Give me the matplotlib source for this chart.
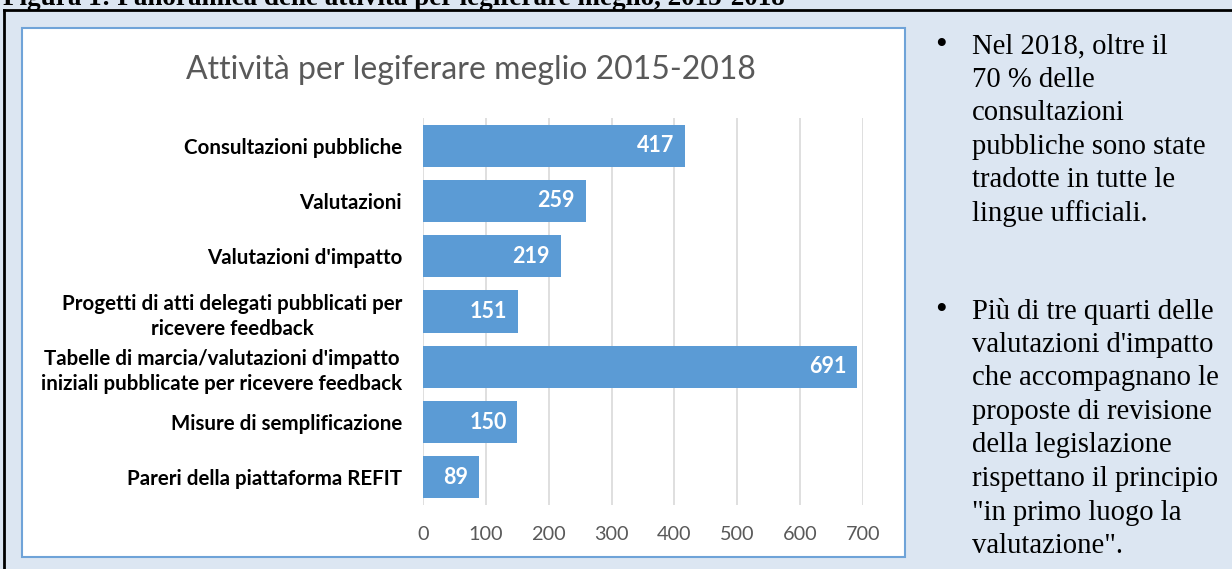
import numpy as np
import matplotlib.pyplot as plt
from matplotlib.patches import Rectangle
from matplotlib.lines import Line2D

categories = [
    "Consultazioni pubbliche",
    "Valutazioni",
    "Valutazioni d'impatto",
    "Progetti di atti delegati pubblicati per\nricevere feedback",
    "Tabelle di marcia/valutazioni d'impatto\niniziali pubblicate per ricevere feedback",
    "Misure di semplificazione",
    "Pareri della piattaforma REFIT",
]
values = [417, 259, 219, 151, 691, 150, 89]
xticks = [0, 100, 200, 300, 400, 500, 600, 700]

fig_title = "Figura 1: Panoramica delle attività per legiferare meglio, 2015-2018"
chart_title = "Attività per legiferare meglio 2015-2018"
bullet1 = ["Nel 2018, oltre il", "70 % delle", "consultazioni",
           "pubbliche sono state", "tradotte in tutte le", "lingue ufficiali."]
bullet2 = ["Più di tre quarti delle", "valutazioni d'impatto",
           "che accompagnano le", "proposte di revisione",
           "della legislazione", "rispettano il principio",
           "\"in primo luogo la", "valutazione\"."]

W, H = 1232, 569
bar_color = "#5b9bd5"
sans = ["Lato", "DejaVu Sans"]
serif = ["Liberation Serif", "DejaVu Serif"]

fig = plt.figure(figsize=(W / 100, H / 100), dpi=100)
fig.patch.set_facecolor("#dce6f2")


def fx(px):
    return px / W


def fy(py):
    return 1 - py / H


# outer frame (left and top only visible)
fig.add_artist(Line2D([fx(4), fx(4)], [fy(10), 0], color="black", lw=2))
fig.add_artist(Line2D([fx(4), 1], [fy(10), fy(10)], color="black", lw=2))

# figure caption, cut at top
fig.text(fx(3), fy(5), fig_title, family=serif, weight="bold", fontsize=19.5,
         ha="left", va="baseline", color="black")

# white chart box
fig.add_artist(Rectangle((fx(22), fy(557)), fx(905) - fx(22), fy(28) - fy(557),
                         transform=fig.transFigure, facecolor="white",
                         edgecolor="#6fa3d8", lw=1.5, zorder=0))

fig.text(fx(471), fy(70), chart_title, family=sans,
         fontsize=23, color="#595959", ha="center", va="center")

ax = fig.add_axes([fx(423), fy(505), fx(863) - fx(423), fy(118) - fy(505)])
ax.set_facecolor("none")
y = np.arange(len(categories))
bars = ax.barh(y, values, height=0.76, color=bar_color, zorder=3)
ax.set_ylim(len(categories) - 0.5, -0.5)
ax.set_xlim(0, 700)
ax.set_xticks(xticks)
ax.set_yticks(y)
ax.set_yticklabels(categories, family=sans, weight="bold", fontsize=14.8,
                   color="black", multialignment="center", linespacing=1.35)
ax.xaxis.set_tick_params(length=0, pad=15, labelsize=14.3, labelcolor="#595959")
ax.yaxis.set_tick_params(length=0, pad=15)
for lab in ax.get_xticklabels():
    lab.set_family(sans)
ax.grid(axis="x", color="#d9d9d9", lw=1.2, zorder=0)
for s in ax.spines.values():
    s.set_visible(False)

for b, v in zip(bars, values):
    ax.text(v - 17, b.get_y() + b.get_height() / 2, str(v), ha="right",
            va="center", color="white", weight="bold", fontsize=15.5,
            family=sans, zorder=4)

# right side bullets
def bullets(lines, y0, dy=33.6):
    fig.text(fx(941), fy(y0), "\u2022", family=serif, fontsize=24,
             ha="center", va="center", color="black")
    for i, line in enumerate(lines):
        fig.text(fx(972), fy(y0 + i * dy), line, family=serif, fontsize=20.6,
                 ha="left", va="center", color="black")


bullets(bullet1, 46)
bullets(bullet2, 311)

fig.savefig("out.png", dpi=100, facecolor=fig.get_facecolor())
